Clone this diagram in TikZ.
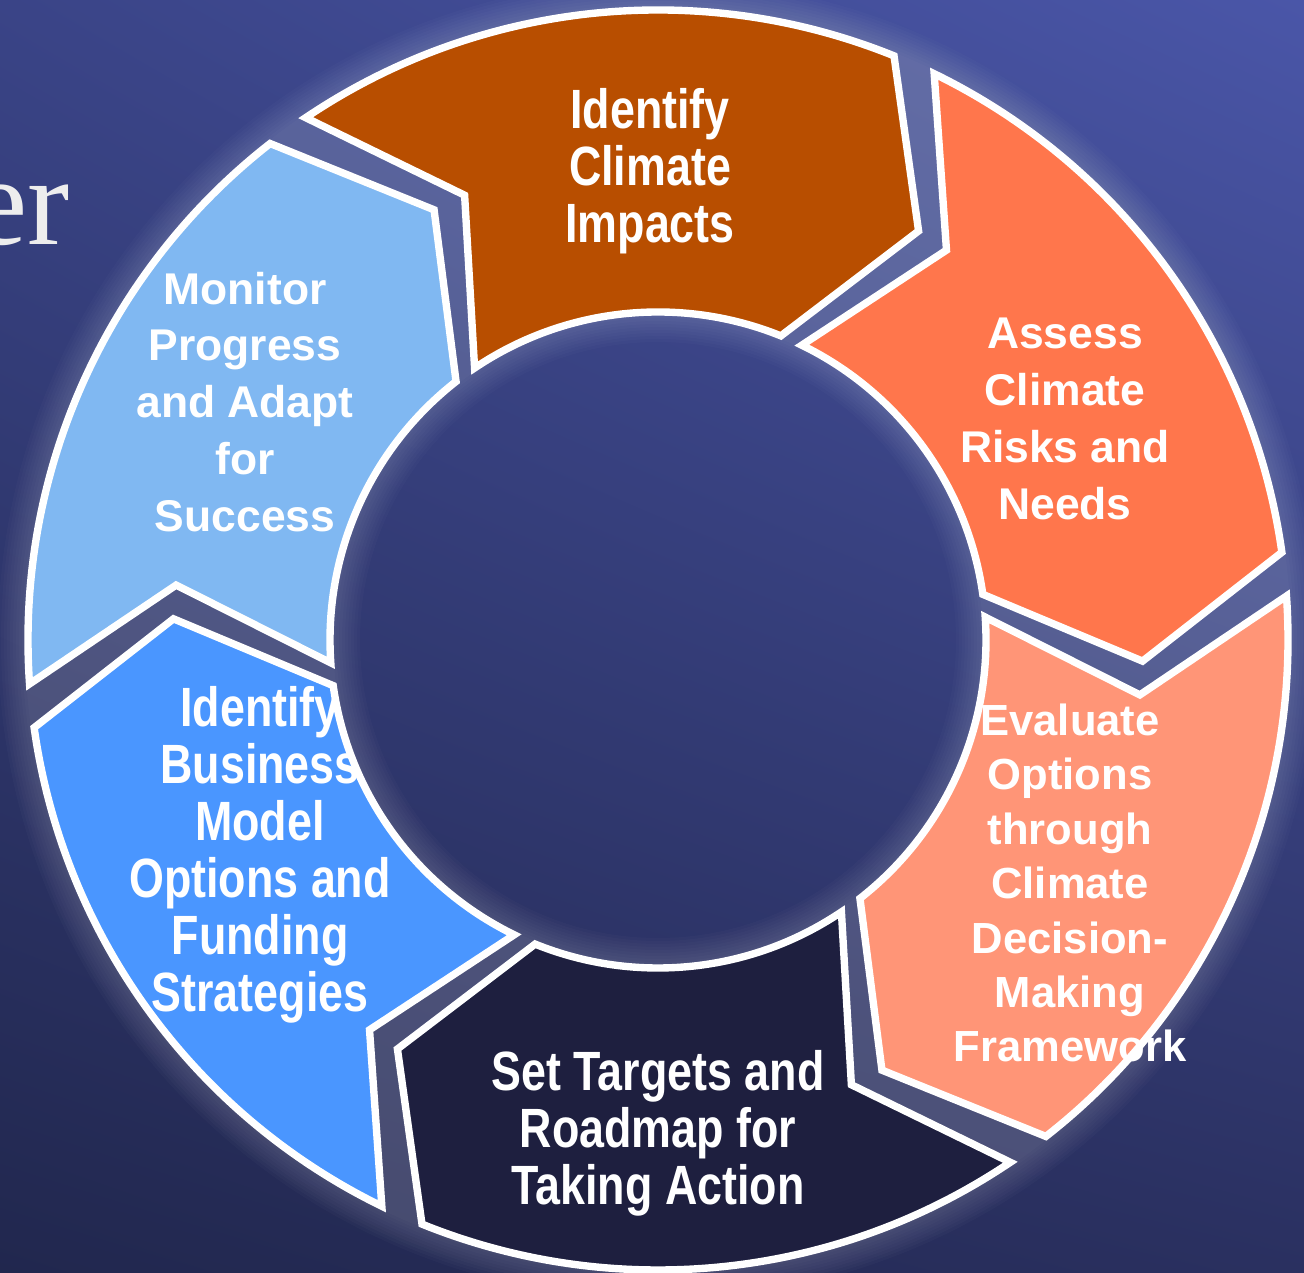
\documentclass[tikz,border=0pt]{standalone}
\usepackage{fontspec}
\setmainfont{Liberation Sans}
\newfontfamily\condfont[FakeStretch=0.81]{Liberation Sans}
\newfontfamily\titlefont{Liberation Serif}
\usetikzlibrary{shadings}

\definecolor{bgTL}{RGB}{58,68,135}
\definecolor{bgTR}{RGB}{74,86,168}
\definecolor{bgBL}{RGB}{33,39,78}
\definecolor{bgBR}{RGB}{42,48,96}
\definecolor{impactC}{RGB}{184,78,0}
\definecolor{assessC}{RGB}{255,118,76}
\definecolor{evalC}{RGB}{255,149,119}
\definecolor{targetC}{RGB}{30,31,63}
\definecolor{businessC}{RGB}{74,150,255}
\definecolor{monitorC}{RGB}{128,184,242}

\begin{document}
\begin{tikzpicture}[
    x=0.02cm, y=0.02cm,
    seg/.style={draw=white, line width=4.2, line join=miter},
    lbl/.style={text=white, align=center, inner sep=0pt, font=\fontsize{25.3}{32.4}\selectfont\bfseries},
    clbl/.style={lbl, font=\condfont\fontsize{31.5}{32.4}\selectfont\bfseries}
]
\useasboundingbox (0,0) rectangle (1304,1273);
\shade[upper left=bgTL, upper right=bgTR, lower left=bgBL, lower right=bgBR] (0,0) rectangle (1304,1273);

% title remnant
\node[anchor=base east, inner sep=0pt, text=white!93!black, font=\titlefont\fontsize{72}{80}\selectfont] (title) at (70,1028) {er};

\begin{scope}[shift={(658,633)}]
% halo round the ring
\foreach \i in {1,...,10}
  \fill[white, fill opacity=0.02, even odd rule] (0,0) circle (630+3*\i) (0,0) circle (328-3*\i);

% the six arrow segments, clockwise from the top
\foreach \a/\col in {96/impactC, 36/assessC, -24/evalC, -84/targetC, -144/businessC, 156/monitorC}
  \draw[seg, fill=\col] (\a+28:630) arc[start angle=\a+28, end angle=\a-28, radius=630]
    -- (\a-38.5:485) -- (\a-28:328) arc[start angle=\a-28, end angle=\a+28, radius=328]
    -- (\a+17.5:485) -- cycle;
\end{scope}

\node[clbl] (impacts) at (650,1102) {Identify\\Climate\\Impacts};
\node[lbl] (assess) at (1065,854) {Assess\\Climate\\Risks and\\Needs};
\node[lbl, font=\fontsize{24.8}{31}\selectfont\bfseries] (evaluate) at (1070,390) {Evaluate\\Options\\through\\Climate\\Decision-\\Making\\Framework};
\node[clbl] (targets) at (658,140) {Set Targets and\\Roadmap for\\Taking Action};
\node[clbl] (business) at (260,418) {Identify\\Business\\Model\\Options and\\Funding\\Strategies};
\node[lbl] (monitor) at (245,871) {Monitor\\Progress\\and Adapt\\for\\Success};
\end{tikzpicture}
\end{document}
